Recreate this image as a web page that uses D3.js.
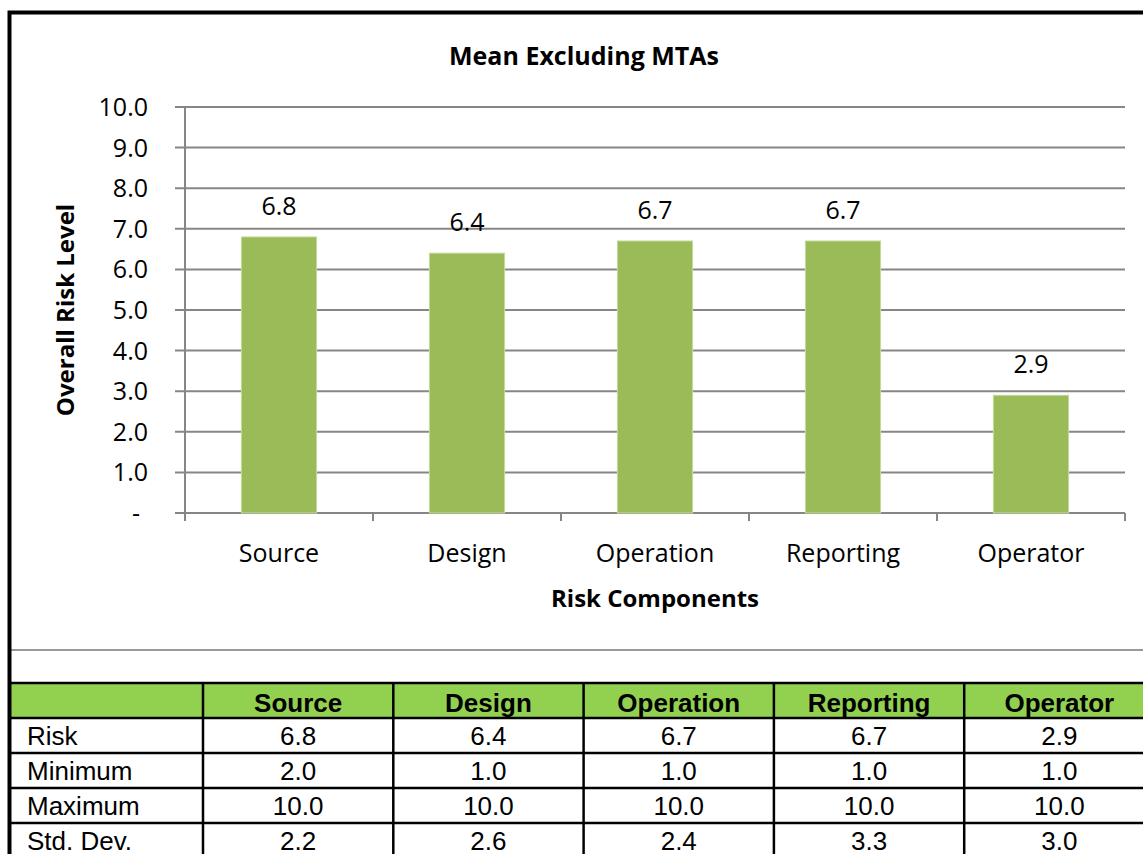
<html>
  <head>
    <meta charset="utf-8">
    <title>Mean Excluding MTAs</title>
    <script src="https://d3js.org/d3.v7.min.js"></script>
    <style>
      body { margin: 0; background: #fff; }
    </style>
  </head>
  <body>

    <svg id="grafico" width="1143" height="854"></svg>

    <script>
    // dados
    let categories = ["Source", "Design", "Operation", "Reporting", "Operator"];
    let risk = [6.8, 6.4, 6.7, 6.7, 2.9];
    let minimum = [2.0, 1.0, 1.0, 1.0, 1.0];
    let maximum = [10.0, 10.0, 10.0, 10.0, 10.0];
    let stdDev = [2.2, 2.6, 2.4, 3.3, 3.0];
    let rowNames = ["Risk", "Minimum", "Maximum", "Std. Dev."];
    let yTicks = [0, 1, 2, 3, 4, 5, 6, 7, 8, 9, 10];

    let svg = d3.select("#grafico");
    let chartFont = "'Open Sans', Lato, sans-serif";
    let tableFont = "'Liberation Sans', Arial, sans-serif";
    let gridColor = "#868686";

    // escalas
    let x = d3.scaleBand().domain(categories).range([185, 1125]).paddingInner(0).paddingOuter(0);
    let y = d3.scaleLinear().domain([0, 10]).range([513, 107]);

    // gridlines
    svg.append("g")
      .selectAll("line")
      .data(yTicks)
      .enter()
      .append("line")
      .attr("x1", 175)
      .attr("x2", 1125)
      .attr("y1", d => y(d))
      .attr("y2", d => y(d))
      .attr("stroke", gridColor)
      .attr("stroke-width", 2);

    // y axis line
    svg.append("line")
      .attr("x1", 185).attr("x2", 185)
      .attr("y1", y(10)).attr("y2", y(0) + 8)
      .attr("stroke", gridColor).attr("stroke-width", 2);

    // x ticks
    let xTickPos = categories.map(c => x(c)).concat([x.range()[1]]);
    svg.append("g")
      .selectAll("line")
      .data(xTickPos)
      .enter()
      .append("line")
      .attr("x1", d => d).attr("x2", d => d)
      .attr("y1", y(0)).attr("y2", y(0) + 8)
      .attr("stroke", gridColor).attr("stroke-width", 2);

    // y tick labels
    svg.append("g")
      .selectAll("text")
      .data(yTicks)
      .enter()
      .append("text")
      .attr("x", d => d === 0 ? 140 : 148)
      .attr("y", d => y(d) + 9)
      .attr("text-anchor", "end")
      .attr("font-family", chartFont)
      .attr("font-size", 25)
      .text(d => d === 0 ? "-" : d.toFixed(1));

    // barras
    let barW = x.bandwidth() * 0.4;
    svg.append("g")
      .selectAll("rect")
      .data(risk)
      .enter()
      .append("rect")
      .attr("x", (d, i) => x(categories[i]) + (x.bandwidth() - barW) / 2)
      .attr("y", d => y(d))
      .attr("width", barW)
      .attr("height", d => y(0) - y(d))
      .attr("fill", "#9BBB59")
      .attr("stroke", "#c6dba0")
      .attr("stroke-width", 1);

    // rotulos
    svg.append("g")
      .selectAll("text")
      .data(risk)
      .enter()
      .append("text")
      .attr("x", (d, i) => x(categories[i]) + x.bandwidth() / 2)
      .attr("y", d => y(d) - 22)
      .attr("text-anchor", "middle")
      .attr("font-family", chartFont)
      .attr("font-size", 25)
      .text(d => d.toFixed(1));

    // x labels
    svg.append("g")
      .selectAll("text")
      .data(categories)
      .enter()
      .append("text")
      .attr("x", d => x(d) + x.bandwidth() / 2)
      .attr("y", 562)
      .attr("text-anchor", "middle")
      .attr("font-family", chartFont)
      .attr("font-size", 25)
      .text(d => d);

    // titulos
    svg.append("text")
      .attr("x", 584).attr("y", 65)
      .attr("text-anchor", "middle")
      .attr("font-family", chartFont).attr("font-weight", "bold").attr("font-size", 25)
      .text("Mean Excluding MTAs");

    svg.append("text")
      .attr("x", 655).attr("y", 607)
      .attr("text-anchor", "middle")
      .attr("font-family", chartFont).attr("font-weight", "bold").attr("font-size", 24)
      .text("Risk Components");

    svg.append("text")
      .attr("transform", "translate(74,310) rotate(-90)")
      .attr("text-anchor", "middle")
      .attr("font-family", chartFont).attr("font-weight", "bold").attr("font-size", 24)
      .text("Overall Risk Level");

    // separador cinza
    svg.append("line")
      .attr("x1", 10).attr("x2", 1143)
      .attr("y1", 650).attr("y2", 650)
      .attr("stroke", "#999").attr("stroke-width", 2);

    // tabela
    let tLeft = 11, firstW = 192, colW = 190.3, headTop = 683, rowH = 35;
    let colX = i => tLeft + firstW + i * colW;

    svg.append("rect")
      .attr("x", tLeft).attr("y", headTop)
      .attr("width", 1143 - tLeft).attr("height", rowH)
      .attr("fill", "#92D050");

    let rows = [risk, minimum, maximum, stdDev];
    let fmt = d3.format(".1f");

    // cabecalho
    svg.append("g")
      .selectAll("text")
      .data(categories)
      .enter()
      .append("text")
      .attr("x", (d, i) => colX(i) + colW / 2)
      .attr("y", headTop + 29)
      .attr("text-anchor", "middle")
      .attr("font-family", tableFont).attr("font-weight", "bold").attr("font-size", 26)
      .text(d => d);

    rows.forEach(function(vals, r){
      let ry = headTop + rowH * (r + 1);
      svg.append("text")
        .attr("x", 27).attr("y", ry + 27)
        .attr("font-family", tableFont).attr("font-size", 26)
        .text(rowNames[r]);
      svg.append("g")
        .selectAll("text")
        .data(vals)
        .enter()
        .append("text")
        .attr("x", (d, i) => colX(i) + colW / 2)
        .attr("y", ry + 27)
        .attr("text-anchor", "middle")
        .attr("font-family", tableFont).attr("font-size", 26)
        .text(d => fmt(d));
    });

    // linhas da tabela
    let hLines = d3.range(0, rows.length + 1).map(k => headTop + k * rowH);
    svg.append("g")
      .selectAll("line")
      .data(hLines)
      .enter()
      .append("line")
      .attr("x1", tLeft).attr("x2", 1143)
      .attr("y1", d => d).attr("y2", d => d)
      .attr("stroke", "#000").attr("stroke-width", 2.5);

    let vLines = d3.range(0, categories.length).map(i => colX(i));
    svg.append("g")
      .selectAll("line")
      .data(vLines)
      .enter()
      .append("line")
      .attr("x1", d => d).attr("x2", d => d)
      .attr("y1", headTop).attr("y2", 854)
      .attr("stroke", "#000").attr("stroke-width", 2.5);

    // borda externa
    svg.append("path")
      .attr("d", "M9.5,854 V12.5 H1143")
      .attr("fill", "none")
      .attr("stroke", "#000")
      .attr("stroke-width", 4);
    </script>

  </body>
</html>
